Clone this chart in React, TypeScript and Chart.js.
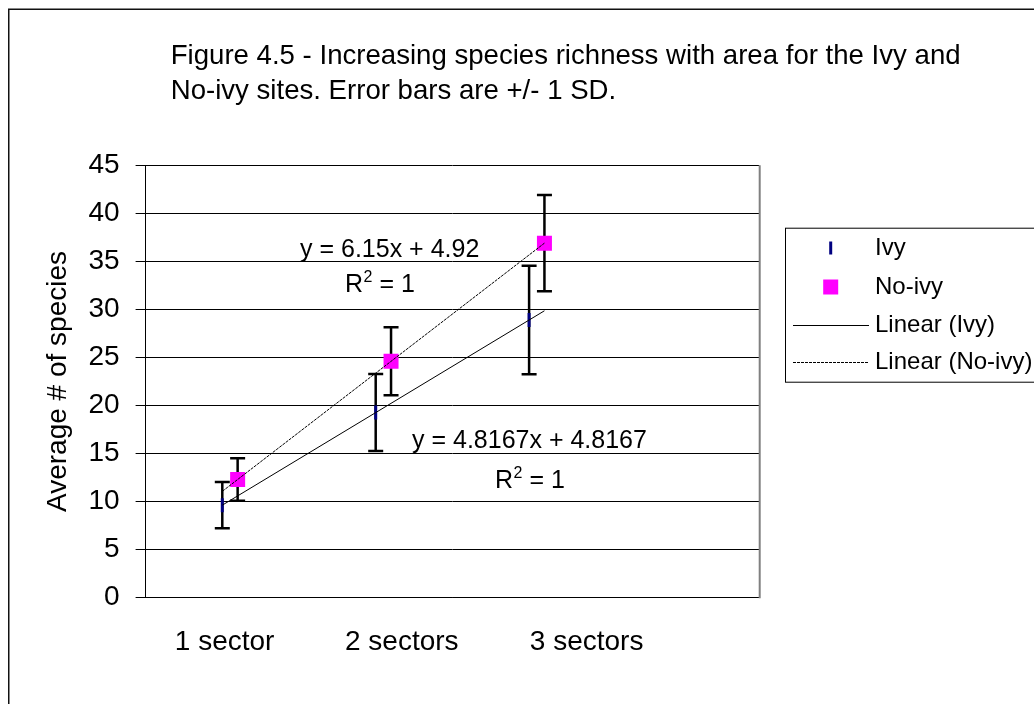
import React, { useEffect, useRef } from 'react';
import { Chart, registerables } from 'chart.js';

Chart.register(...registerables);

const FONT = '"Liberation Sans", Arial, Helvetica, sans-serif';

// ---- data ----
const categories = ['1 sector', '2 sectors', '3 sectors'];
const categoryTickPositions = [1.03, 3.34, 5.75];

const ivyX = [1, 3, 5];
const ivyMeans = [9.63, 19.27, 28.9];
const ivySD = [2.4, 4.0, 5.65];

const noIvyX = [1.2, 3.2, 5.2];
const noIvyMeans = [12.3, 24.6, 36.9];
const noIvySD = [2.2, 3.54, 5.0];

const ivyTrendX = [1, 5.2];
const ivyTrendY = [9.63, 29.86];
const noIvyTrendX = [1, 5.2];
const noIvyTrendY = [11.07, 36.9];

const yMin = 0;
const yMax = 45;
const yStep = 5;
const xMin = 0;
const xMax = 8;

const titleLines = [
  'Figure 4.5 - Increasing species richness with area for the Ivy and',
  'No-ivy sites. Error bars are +/- 1 SD.',
];
const yAxisTitle = 'Average # of species';
const legendLabels = ['Ivy', 'No-ivy', 'Linear (Ivy)', 'Linear (No-ivy)'];
const noIvyEquation = 'y = 6.15x + 4.92';
const ivyEquation = 'y = 4.8167x + 4.8167';
const rSquaredValue = '1';

const W = 1026;
const H = 696;
const AREA_LEFT = 137.6;
const AREA_RIGHT = 751.2;
const AREA_TOP = 157.3;
const AREA_BOTTOM = 589.7;

const IVY_COLOR = '#000080';
const NOIVY_COLOR = '#FF00FF';

const framePlugin = {
  id: 'frame',
  beforeDraw(chart: any) {
    const { ctx } = chart;
    ctx.save();
    ctx.fillStyle = '#fff';
    ctx.fillRect(0, 0, W, H);
    ctx.restore();
  },
  afterDraw(chart: any) {
    const { ctx, chartArea } = chart;
    ctx.save();
    // plot area right border (grey)
    ctx.strokeStyle = '#808080';
    ctx.lineWidth = 2;
    ctx.beginPath();
    ctx.moveTo(chartArea.right + 0.5, chartArea.top);
    ctx.lineTo(chartArea.right + 0.5, chartArea.bottom + 0.5);
    ctx.stroke();
    // outer chart border
    ctx.strokeStyle = '#111';
    ctx.lineWidth = 1.5;
    ctx.beginPath();
    ctx.moveTo(0.75, H + 5);
    ctx.lineTo(0.75, 1.25);
    ctx.lineTo(W + 5, 1.25);
    ctx.stroke();
    ctx.restore();
  },
};

const errorBarPlugin = {
  id: 'errorBars',
  beforeDatasetsDraw(chart: any) {
    const { ctx } = chart;
    const xs = chart.scales.x;
    const ys = chart.scales.y;
    const groups: [number[], number[], number[]][] = [
      [ivyX, ivyMeans, ivySD],
      [noIvyX, noIvyMeans, noIvySD],
    ];
    ctx.save();
    ctx.strokeStyle = '#000';
    ctx.lineWidth = 2.5;
    for (const [gx, gm, gs] of groups) {
      for (let i = 0; i < gx.length; i++) {
        const px = xs.getPixelForValue(gx[i]);
        const top = ys.getPixelForValue(gm[i] + gs[i]);
        const bot = ys.getPixelForValue(gm[i] - gs[i]);
        ctx.beginPath();
        ctx.moveTo(px, top);
        ctx.lineTo(px, bot);
        ctx.moveTo(px - 7.5, top);
        ctx.lineTo(px + 7.5, top);
        ctx.moveTo(px - 7.5, bot);
        ctx.lineTo(px + 7.5, bot);
        ctx.stroke();
      }
    }
    ctx.restore();
  },
};

function drawRSquared(ctx: CanvasRenderingContext2D, x: number, y: number) {
  ctx.font = `25px ${FONT}`;
  ctx.fillText('R', x, y);
  const wR = ctx.measureText('R').width;
  ctx.font = `16px ${FONT}`;
  ctx.fillText('2', x + wR + 0.5, y - 10);
  const w2 = ctx.measureText('2').width;
  ctx.font = `25px ${FONT}`;
  ctx.fillText(' = ' + rSquaredValue, x + wR + w2 + 0.5, y);
}

const textPlugin = {
  id: 'texts',
  afterDraw(chart: any) {
    const { ctx } = chart;
    ctx.save();
    ctx.fillStyle = '#000';
    ctx.textAlign = 'left';
    ctx.textBaseline = 'alphabetic';
    // title
    ctx.font = `27.6px ${FONT}`;
    ctx.fillText(titleLines[0], 162.7, 56.3);
    ctx.fillText(titleLines[1], 162.7, 91);
    // trend equations
    ctx.font = `25px ${FONT}`;
    ctx.fillText(noIvyEquation, 292, 249);
    drawRSquared(ctx, 337, 284);
    ctx.font = `25px ${FONT}`;
    ctx.fillText(ivyEquation, 404, 440);
    drawRSquared(ctx, 487, 480);

    // legend
    const boxL = 777;
    const boxT = 219.7;
    const boxB = 373.7;
    ctx.strokeStyle = '#000';
    ctx.lineWidth = 1;
    ctx.strokeRect(boxL + 0.5, boxT + 0.5, W + 20 - boxL, boxB - boxT);
    const rows = [240, 279, 317, 354];
    const markX = 822.7;
    // Ivy marker
    ctx.strokeStyle = IVY_COLOR;
    ctx.lineWidth = 3;
    ctx.beginPath();
    ctx.moveTo(markX, rows[0] - 6.5);
    ctx.lineTo(markX, rows[0] + 6.5);
    ctx.stroke();
    // No-ivy marker
    ctx.fillStyle = NOIVY_COLOR;
    ctx.fillRect(markX - 7.5, rows[1] - 7.5, 15, 15);
    // Linear (Ivy)
    ctx.strokeStyle = '#000';
    ctx.lineWidth = 1;
    ctx.beginPath();
    ctx.moveTo(785, rows[2] + 0.5);
    ctx.lineTo(861, rows[2] + 0.5);
    ctx.stroke();
    // Linear (No-ivy)
    ctx.setLineDash([3, 1]);
    ctx.beginPath();
    ctx.moveTo(785, rows[3] + 0.5);
    ctx.lineTo(861, rows[3] + 0.5);
    ctx.stroke();
    ctx.setLineDash([]);
    ctx.fillStyle = '#000';
    ctx.font = `24px ${FONT}`;
    ctx.textBaseline = 'middle';
    legendLabels.forEach((lab, i) => ctx.fillText(lab, 867, rows[i]));
    ctx.restore();
  },
};

export default function App() {
  const ref = useRef<HTMLCanvasElement>(null);
  useEffect(() => {
    const canvas = ref.current;
    if (!canvas) return;
    const chart = new Chart(canvas, {
      type: 'scatter',
      data: {
        datasets: [
          {
            label: legendLabels[2],
            type: 'line',
            data: ivyTrendX.map((x, i) => ({ x, y: ivyTrendY[i] })),
            borderColor: '#000',
            borderWidth: 1,
            pointRadius: 0,
            fill: false,
            showLine: true,
            order: 0,
          } as any,
          {
            label: legendLabels[3],
            type: 'line',
            data: noIvyTrendX.map((x, i) => ({ x, y: noIvyTrendY[i] })),
            borderColor: '#000',
            borderWidth: 1,
            borderDash: [3, 1],
            pointRadius: 0,
            fill: false,
            showLine: true,
            order: 0,
          } as any,
          {
            label: legendLabels[0],
            data: ivyX.map((x, i) => ({ x, y: ivyMeans[i] })),
            pointStyle: 'line',
            rotation: 90,
            pointRadius: 7,
            pointBorderWidth: 3,
            pointBorderColor: IVY_COLOR,
            pointBackgroundColor: IVY_COLOR,
            borderColor: IVY_COLOR,
            order: 1,
          } as any,
          {
            label: legendLabels[1],
            data: noIvyX.map((x, i) => ({ x, y: noIvyMeans[i] })),
            pointStyle: 'rect',
            pointRadius: 10.6,
            pointBorderWidth: 0,
            pointBackgroundColor: NOIVY_COLOR,
            pointBorderColor: NOIVY_COLOR,
            backgroundColor: NOIVY_COLOR,
            order: 1,
          } as any,
        ],
      },
      options: {
        responsive: false,
        animation: false,
        devicePixelRatio: 1,
        layout: { padding: { left: 0, top: AREA_TOP, right: W - AREA_RIGHT, bottom: 0 } },
        plugins: {
          legend: { display: false },
          tooltip: { enabled: false },
          title: { display: false },
        },
        scales: {
          x: {
            type: 'linear',
            min: xMin,
            max: xMax,
            afterBuildTicks: (s: any) => {
              s.ticks = categoryTickPositions.map((v) => ({ value: v }));
            },
            afterFit: (s: any) => {
              s.height = H - AREA_BOTTOM;
            },
            ticks: {
              callback: (_v: any, i: number) => categories[i],
              font: { family: FONT, size: 28 },
              color: '#000',
              padding: 28,
              maxRotation: 0,
              autoSkip: false,
            },
            grid: { display: false, drawTicks: false },
            border: { display: true, color: '#000', width: 1 },
          },
          y: {
            type: 'linear',
            min: yMin,
            max: yMax,
            afterFit: (s: any) => {
              s.width = AREA_LEFT;
            },
            ticks: {
              stepSize: yStep,
              font: { family: FONT, size: 28 },
              color: '#000',
              padding: 16,
            },
            grid: { color: '#000', lineWidth: 1, tickLength: 10, drawTicks: true },
            border: { display: true, color: '#000', width: 1 },
            title: {
              display: true,
              text: yAxisTitle,
              font: { family: FONT, size: 28 },
              color: '#000',
              padding: { top: 33, bottom: 0 },
            },
          },
        },
      } as any,
      plugins: [framePlugin, errorBarPlugin, textPlugin],
    });
    return () => chart.destroy();
  }, []);
  return (
    <div style={{ position: 'fixed', left: 8, top: 8, width: W, height: H, overflow: 'hidden' }}>
      <canvas ref={ref} width={W} height={H} style={{ display: 'block', width: W, height: H }} />
    </div>
  );
}
